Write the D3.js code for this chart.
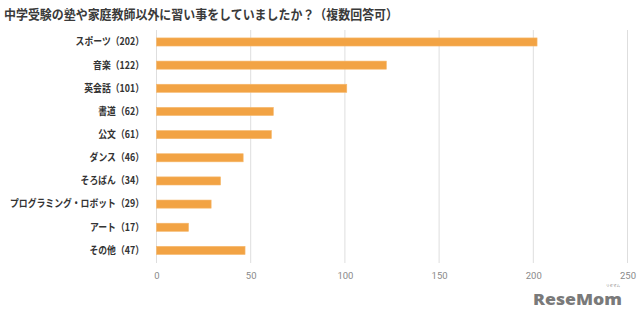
<!DOCTYPE html>
<html><head><meta charset="utf-8">
<script src="https://cdn.jsdelivr.net/npm/d3@7"></script>
<style>
body{margin:0;background:#fff;}
text{font-family:"Noto Sans CJK JP","Noto Sans",sans-serif;}
</style></head>
<body><svg id="c" width="640" height="323"></svg>
<script>
const title = "中学受験の塾や家庭教師以外に習い事をしていましたか？（複数回答可）";
const names = ["スポーツ","音楽","英会話","書道","公文","ダンス","そろばん","プログラミング・ロボット","アート","その他"];
const values = [202,122,101,62,61,46,34,29,17,47];
const xTicks = [0,50,100,150,200,250];
const categories = names.map((n,i)=>n+"（"+values[i]+"）");

const svg = d3.select("#c");
const x = d3.scaleLinear().domain([0,250]).range([156.5,627.5]);
const y = d3.scaleBand().domain(categories).range([30.4,262]).paddingInner(0.65).paddingOuter(0.325);

svg.append("text").attr("x",4).attr("y",19).attr("font-size",13).attr("font-weight","bold")
  .attr("fill","#3a3a3a").attr("textLength",394).attr("lengthAdjust","spacingAndGlyphs").text(title);

// grid
svg.append("g").selectAll("line").data(xTicks).join("line")
  .attr("x1",d=>x(d)).attr("x2",d=>x(d)).attr("y1",30).attr("y2",263)
  .attr("stroke","#dedede").attr("stroke-width",1);

// x axis labels
const xa = svg.append("g").attr("transform","translate(0,263)")
  .call(d3.axisBottom(x).tickValues(xTicks).tickSize(0).tickPadding(9));
xa.select(".domain").remove();
xa.selectAll("text").attr("font-size",9.5).attr("fill","#8a8a8a").style("font-family","Roboto,'Noto Sans',sans-serif");

// bars
svg.append("g").selectAll("rect").data(values).join("rect")
  .attr("x",x(0)).attr("y",(d,i)=>y(categories[i]))
  .attr("width",d=>x(d)-x(0)).attr("height",y.bandwidth())
  .attr("fill","#F2A344").attr("stroke","#F6B86C").attr("stroke-width",0.6);

// y axis labels
const ya = svg.append("g").attr("transform","translate(144,0)")
  .call(d3.axisLeft(y).tickSize(0).tickPadding(0));
ya.select(".domain").remove();
const lbl = ya.selectAll("text").attr("font-size",10.5).attr("font-weight","bold").attr("fill","#333");
const widths = lbl.nodes().map(n=>n.getComputedTextLength());
const k = 134 / d3.max(widths);
lbl.each(function(d,i){
  d3.select(this).attr("textLength",widths[i]*k).attr("lengthAdjust","spacingAndGlyphs");
});

// logo
svg.append("text").attr("x",533).attr("y",304.5).attr("font-size",15.5).attr("font-weight","800")
  .attr("fill","#7a7a7a").style("font-family","'Open Sans',Roboto,sans-serif")
  .attr("textLength",89).attr("lengthAdjust","spacingAndGlyphs").text("ReseMom");
svg.append("text").attr("x",606).attr("y",286.5).attr("font-size",3.5).attr("fill","#7a7a7a").text("リセマム");
</script></body></html>
